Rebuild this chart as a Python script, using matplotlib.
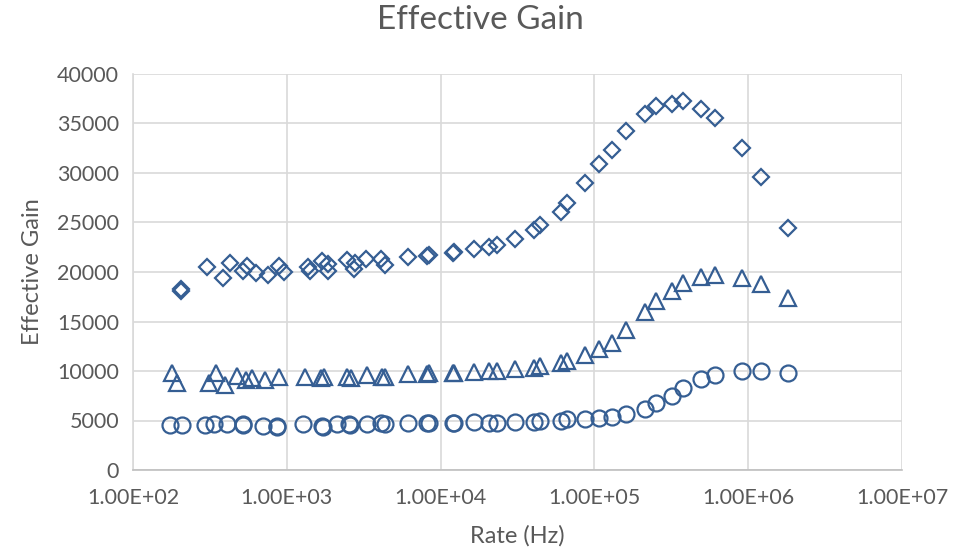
import matplotlib
matplotlib.use("Agg")
import matplotlib.pyplot as plt
from matplotlib.ticker import FixedLocator, FixedFormatter

plt.rcParams['font.family'] = ['Lato', 'DejaVu Sans']

# series 1 (diamonds)
rate_d = [205, 205, 302, 384, 427, 516, 549, 634, 759, 885, 952, 1365, 1406, 1700, 1840, 1840,
          2478, 2750, 2790, 3290, 4120, 4370, 6170, 8180, 8400, 12000, 12250, 16500, 20700, 23300,
          30500, 40500, 44300, 60600, 66200, 86700, 106800, 131000, 160000, 212000, 250000,
          318000, 374000, 497000, 612000, 916000, 1217000, 1820000]
gain_d = [18300, 18100, 20500, 19400, 20900, 20100, 20600, 19900, 19700, 20600, 20000, 20500, 20100,
          21100, 20800, 20100, 21200, 20300, 20900, 21300, 21300, 20700, 21500, 21600, 21700, 21900,
          22000, 22300, 22500, 22700, 23300, 24200, 24700, 26100, 27000, 29000, 30900, 32300, 34200,
          36000, 36800, 37000, 37300, 36500, 35600, 32500, 29600, 24400]

# series 2 (triangles)
rate_t = [179, 193, 311, 345, 395, 473, 540, 590, 717, 885, 1320, 1680, 1750, 2480, 2600, 3340,
          4180, 4370, 6170, 8180, 8400, 12000, 12250, 16500, 20700, 23300, 30500, 40500, 44300,
          60600, 66200, 86700, 106800, 131000, 160000, 212000, 250000, 318000, 374000, 497000,
          612000, 916000, 1217000, 1820000]
gain_t = [9800, 8800, 8800, 9800, 8600, 9500, 9100, 9300, 9100, 9400, 9400, 9300, 9400, 9400, 9300,
          9600, 9400, 9400, 9700, 9700, 9800, 9800, 9800, 9900, 10000, 10000, 10200, 10300, 10500,
          10800, 11000, 11600, 12200, 12800, 14100, 16000, 17100, 18100, 18900, 19500, 19700, 19400,
          18800, 17400]

# series 3 (circles)
rate_c = [175, 208, 293, 335, 407, 516, 520, 697, 860, 870, 1270, 1700, 1710, 2130, 2540, 2560,
          3340, 4120, 4370, 6170, 8180, 8400, 12000, 12250, 16500, 20700, 23300, 30500, 40500,
          44300, 60600, 66200, 86700, 106800, 131000, 160000, 212000, 250000, 318000, 374000,
          497000, 612000, 916000, 1217000, 1820000]
gain_c = [4550, 4550, 4550, 4650, 4650, 4550, 4650, 4450, 4450, 4350, 4650, 4450, 4350, 4650, 4650,
          4550, 4650, 4750, 4650, 4750, 4750, 4750, 4750, 4750, 4800, 4750, 4750, 4800, 4850, 4950,
          4950, 5150, 5150, 5250, 5350, 5650, 6200, 6750, 7500, 8250, 9200, 9600, 10000, 10000, 9800]

x_ticks = [1e2, 1e3, 1e4, 1e5, 1e6, 1e7]
x_labels = ["1.00E+02", "1.00E+03", "1.00E+04", "1.00E+05", "1.00E+06", "1.00E+07"]

blue = '#355E93'
txt = '#595959'

fig = plt.figure(figsize=(9.61, 5.55), dpi=100)
ax = fig.add_axes([133/961, 1 - 470/555, (902 - 133)/961, (470 - 74)/555])

ax.plot(rate_d, gain_d, linestyle='none', marker='D', ms=8.5, mfc='none', mec=blue, mew=1.6)
ax.plot(rate_t, gain_t, linestyle='none', marker='^', ms=11.5, mfc='none', mec=blue, mew=1.6)
ax.plot(rate_c, gain_c, linestyle='none', marker='o', ms=11.5, mfc='none', mec=blue, mew=1.6)

ax.set_xscale('log')
ax.set_xlim(1e2, 1e7)
ax.set_ylim(0, 40000)
ax.xaxis.set_major_locator(FixedLocator(x_ticks))
ax.xaxis.set_major_formatter(FixedFormatter(x_labels))
ax.xaxis.set_minor_locator(FixedLocator([]))
ax.set_yticks(range(0, 40001, 5000))

ax.grid(True, color='#D9D9D9', linewidth=1.2)
ax.set_axisbelow(True)
for s in ax.spines.values():
    s.set_visible(False)
ax.spines['left'].set_visible(True)
ax.spines['bottom'].set_visible(True)
ax.spines['left'].set_color('#D9D9D9')
ax.spines['bottom'].set_color('#BFBFBF')
ax.spines['left'].set_linewidth(1.2)
ax.spines['bottom'].set_linewidth(1.2)
ax.tick_params(length=0, labelsize=15.5, labelcolor=txt)
ax.tick_params(axis='x', pad=13)
ax.tick_params(axis='y', pad=10)

ax.set_xlabel('Rate (Hz)', fontsize=17, color=txt, labelpad=12)
ax.set_ylabel('Effective Gain', fontsize=17, color=txt, labelpad=10)
fig.text(0.5, 1 - 20/555, 'Effective Gain', ha='center', va='center', fontsize=24, color=txt)

fig.savefig('out.png', dpi=100)
